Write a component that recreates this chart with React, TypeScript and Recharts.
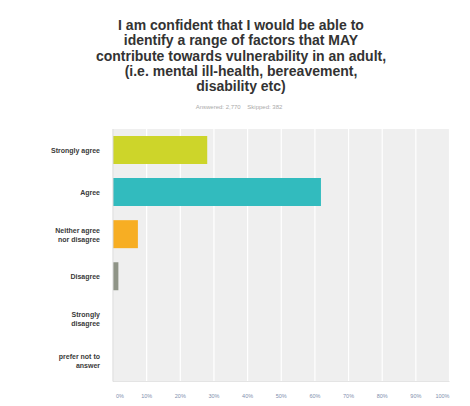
import React from 'react';
import { BarChart, Bar, XAxis, YAxis, CartesianGrid, Cell } from 'recharts';

const titleLines = [
    'I am confident that I would be able to',
    'identify a range of factors that MAY',
    'contribute towards vulnerability in an adult,',
    '(i.e. mental ill-health, bereavement,',
    'disability etc)',
];
const subtitle = 'Answered: 2,770    Skipped: 382';

const categories = [
    'Strongly agree',
    'Agree',
    'Neither agree\nnor disagree',
    'Disagree',
    'Strongly\ndisagree',
    'prefer not to\nanswer',
];
const percents = [28, 61.8, 7.4, 1.6, 0, 0];
const barColors = ['#cdd52a', '#32bbbe', '#f7ae23', '#8f9487', '#c0c0c0', '#c0c0c0'];
const xTicks = [0, 10, 20, 30, 40, 50, 60, 70, 80, 90, 100];

const data = categories.map((name, i) => ({ name, value: percents[i] }));

const FONT = '"Liberation Sans", Arial, sans-serif';

function CategoryTick({ x, y, payload }: any) {
    const lines = String(payload.value).split('\n');
    const lh = 9.3;
    const startY = y - ((lines.length - 1) * lh) / 2;
    return (
        <text x={x - 5} y={startY} textAnchor="end" fontSize={7} fontWeight="bold" fontFamily={FONT} fill="#3a3a3a" dominantBaseline="central">
            {lines.map((l, i) => (
                <tspan key={i} x={x - 5} y={startY + i * lh} fill="#3a3a3a">{l}</tspan>
            ))}
        </text>
    );
}

function PercentTick({ x, y, payload }: any) {
    const v = payload.value;
    const anchor = v === 0 ? 'start' : v === 100 ? 'end' : 'middle';
    const dx = v === 0 ? 3 : 0;
    return (
        <text x={x + dx} y={y + 8} textAnchor={anchor} fontSize={5.5} fontFamily={FONT} fill="#7f8fae">
            {v}%
        </text>
    );
}

export default function App() {
    return (
        <div style={{ position: 'absolute', left: 0, top: 0, width: 470, height: 406, background: '#fff' }}>
            <div style={{
                position: 'absolute', left: 0, width: 482, top: 18, textAlign: 'center',
                fontFamily: FONT, fontWeight: 'bold', fontSize: 14, lineHeight: '15.3px', color: '#333',
            }}>
                {titleLines.map((l, i) => <div key={i}>{l}</div>)}
            </div>
            <div style={{
                position: 'absolute', left: 0, width: 478, top: 104, textAlign: 'center',
                fontFamily: FONT, fontSize: 6, color: '#aaa', whiteSpace: 'pre',
            }}>
                {subtitle}
            </div>
            <BarChart
                width={470}
                height={406}
                data={data}
                layout="vertical"
                margin={{ top: 129, right: 20.5, left: 0, bottom: 0 }}
                barCategoryGap={7}
            >
                <CartesianGrid horizontal={false} fill="#efefef" stroke="#ffffff" strokeWidth={1.2} />
                <XAxis
                    type="number"
                    domain={[0, 100]}
                    ticks={xTicks}
                    tick={<PercentTick />}
                    tickLine={false}
                    axisLine={{ stroke: '#e4e4e4' }}
                    height={24.5}
                    interval={0}
                />
                <YAxis
                    type="category"
                    dataKey="name"
                    width={113}
                    tick={<CategoryTick />}
                    tickLine={false}
                    axisLine={{ stroke: '#d6d6d6' }}
                    interval={0}
                />
                <Bar dataKey="value" isAnimationActive={false}>
                    {data.map((d, i) => (
                        <Cell key={i} fill={barColors[i]} />
                    ))}
                </Bar>
            </BarChart>
        </div>
    );
}
